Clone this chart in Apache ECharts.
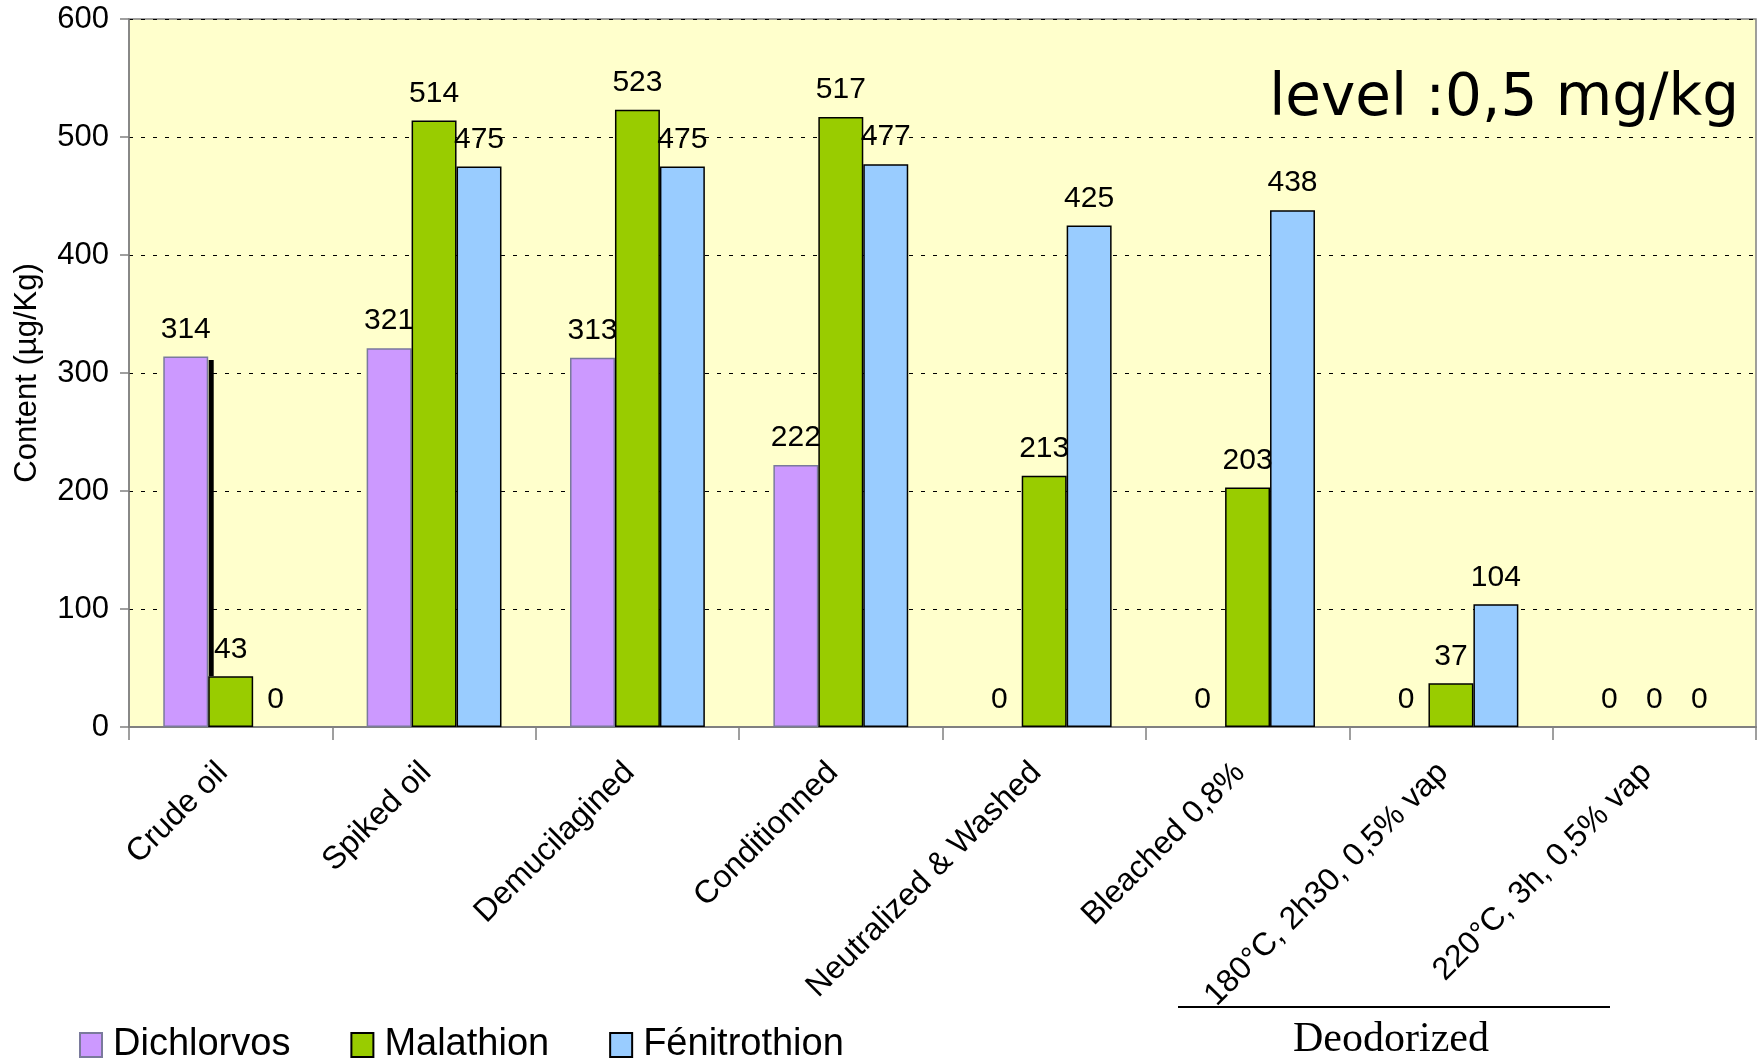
<!DOCTYPE html>
<html>
<head>
<meta charset="utf-8">
<script src="https://cdn.jsdelivr.net/npm/echarts@6/dist/echarts.min.js"></script>
<style>html,body{margin:0;padding:0;background:#fff;}#c{width:1763px;height:1061px;}</style>
</head>
<body>
<div id="c"></div>
<script>
const categories = ['Crude oil', 'Spiked oil', 'Demucilagined', 'Conditionned', 'Neutralized & Washed', 'Bleached 0,8%', '180°C, 2h30, 0,5% vap', '220°C, 3h, 0,5% vap'];
const dichlorvos = [314, 321, 313, 222, 0, 0, 0, 0];
const malathion = [43, 514, 523, 517, 213, 203, 37, 0];
const fenitrothion = [0, 475, 475, 477, 425, 438, 104, 0];
const yTicks = [0, 100, 200, 300, 400, 500, 600];
// stray black line in crude oil group: [categoryIndex, low, high]
const strayLine = [[0, 43, 311]];

const FONT = '"Liberation Sans", Arial, sans-serif';
const chart = echarts.init(document.getElementById('c'));

const labelCfg = {
  show: true, position: 'top', distance: 12,
  color: '#000', fontFamily: FONT, fontSize: 30
};
const prep = arr => arr.map(v => v === 0 ? { value: 0, itemStyle: { borderWidth: 0 } } : v);

chart.setOption({
  animation: false,
  grid: {
    left: 129, right: 7, top: 19, bottom: 334,
    containLabel: false, outerBoundsMode: 'none',
    show: true, backgroundColor: '#FFFFCC', borderColor: '#808080', borderWidth: 1.5
  },
  legend: {
    left: 74, top: 1021,
    itemWidth: 22, itemHeight: 24, itemGap: 60,
    icon: 'rect',
    textStyle: { fontFamily: FONT, fontSize: 38, color: '#000', padding: [0, 0, 0, 6] },
    data: ['Dichlorvos', 'Malathion', 'Fénitrothion']
  },
  xAxis: {
    type: 'category', data: categories,
    axisLine: { lineStyle: { color: '#808080', width: 2 } },
    axisTick: { show: true, alignWithLabel: false, length: 13, lineStyle: { color: '#808080', width: 1.5 } },
    axisLabel: { rotate: 45, interval: 0, margin: 33, padding: [0, 11, 0, 0],
      color: '#000', fontFamily: FONT, fontSize: 32 }
  },
  yAxis: {
    type: 'value', min: 0, max: 600, interval: 100,
    name: 'Content (µg/Kg)', nameLocation: 'middle', nameRotate: 90, nameGap: 86,
    nameTextStyle: { fontFamily: FONT, fontSize: 31, color: '#000' },
    axisLine: { show: true, lineStyle: { color: '#808080', width: 1.5 } },
    axisTick: { show: true, length: 9, lineStyle: { color: '#808080', width: 1.5 } },
    axisLabel: { margin: 20, color: '#000', fontFamily: FONT, fontSize: 31,
      formatter: v => yTicks.includes(v) ? String(v) : '' },
    splitLine: { show: true, lineStyle: { color: '#000', type: [4, 8], width: 1 } }
  },
  series: [
    { name: 'Dichlorvos', type: 'bar', data: prep(dichlorvos), barGap: '0%', barCategoryGap: '33.7%',
      itemStyle: { color: '#CC99FF', borderColor: '#7a7a9c', borderWidth: 1.5 }, label: labelCfg },
    { name: 'Malathion', type: 'bar', data: prep(malathion), barGap: '0%', barCategoryGap: '33.7%',
      itemStyle: { color: '#99CC00', borderColor: '#000', borderWidth: 1.5 }, label: labelCfg },
    { name: 'Fénitrothion', type: 'bar', data: prep(fenitrothion), barGap: '0%', barCategoryGap: '33.7%',
      itemStyle: { color: '#99CCFF', borderColor: '#000', borderWidth: 1.5 }, label: labelCfg },
    { name: 'stray', type: 'custom', data: strayLine, z: 5, silent: true,
      renderItem: function (params, api) {
        const c = api.value(0);
        const top = api.coord([c, api.value(2)]);
        const bot = api.coord([c, api.value(1)]);
        const band = api.size([1, 0])[0];
        const x = top[0] - band * 0.663 / 6 + 3;
        return { type: 'line', shape: { x1: x, y1: top[1], x2: x, y2: bot[1] },
          style: { stroke: '#000', lineWidth: 5 } };
      }
    }
  ],
  graphic: [
    { type: 'text', right: 24, top: 71, z: 10,
      style: { text: 'level :0,5 mg/kg', fontFamily: '"Comic Sans MS", "DejaVu Sans", sans-serif', fontSize: 58, fill: '#000' } },
    { type: 'line', z: 10, shape: { x1: 1178, y1: 1007, x2: 1610, y2: 1007 }, style: { stroke: '#000', lineWidth: 2 } },
    { type: 'text', left: 1293, top: 1019, z: 10,
      style: { text: 'Deodorized', fontFamily: '"Liberation Serif", "Times New Roman", serif', fontSize: 42, fill: '#000' } }
  ]
});
</script>
</body>
</html>
